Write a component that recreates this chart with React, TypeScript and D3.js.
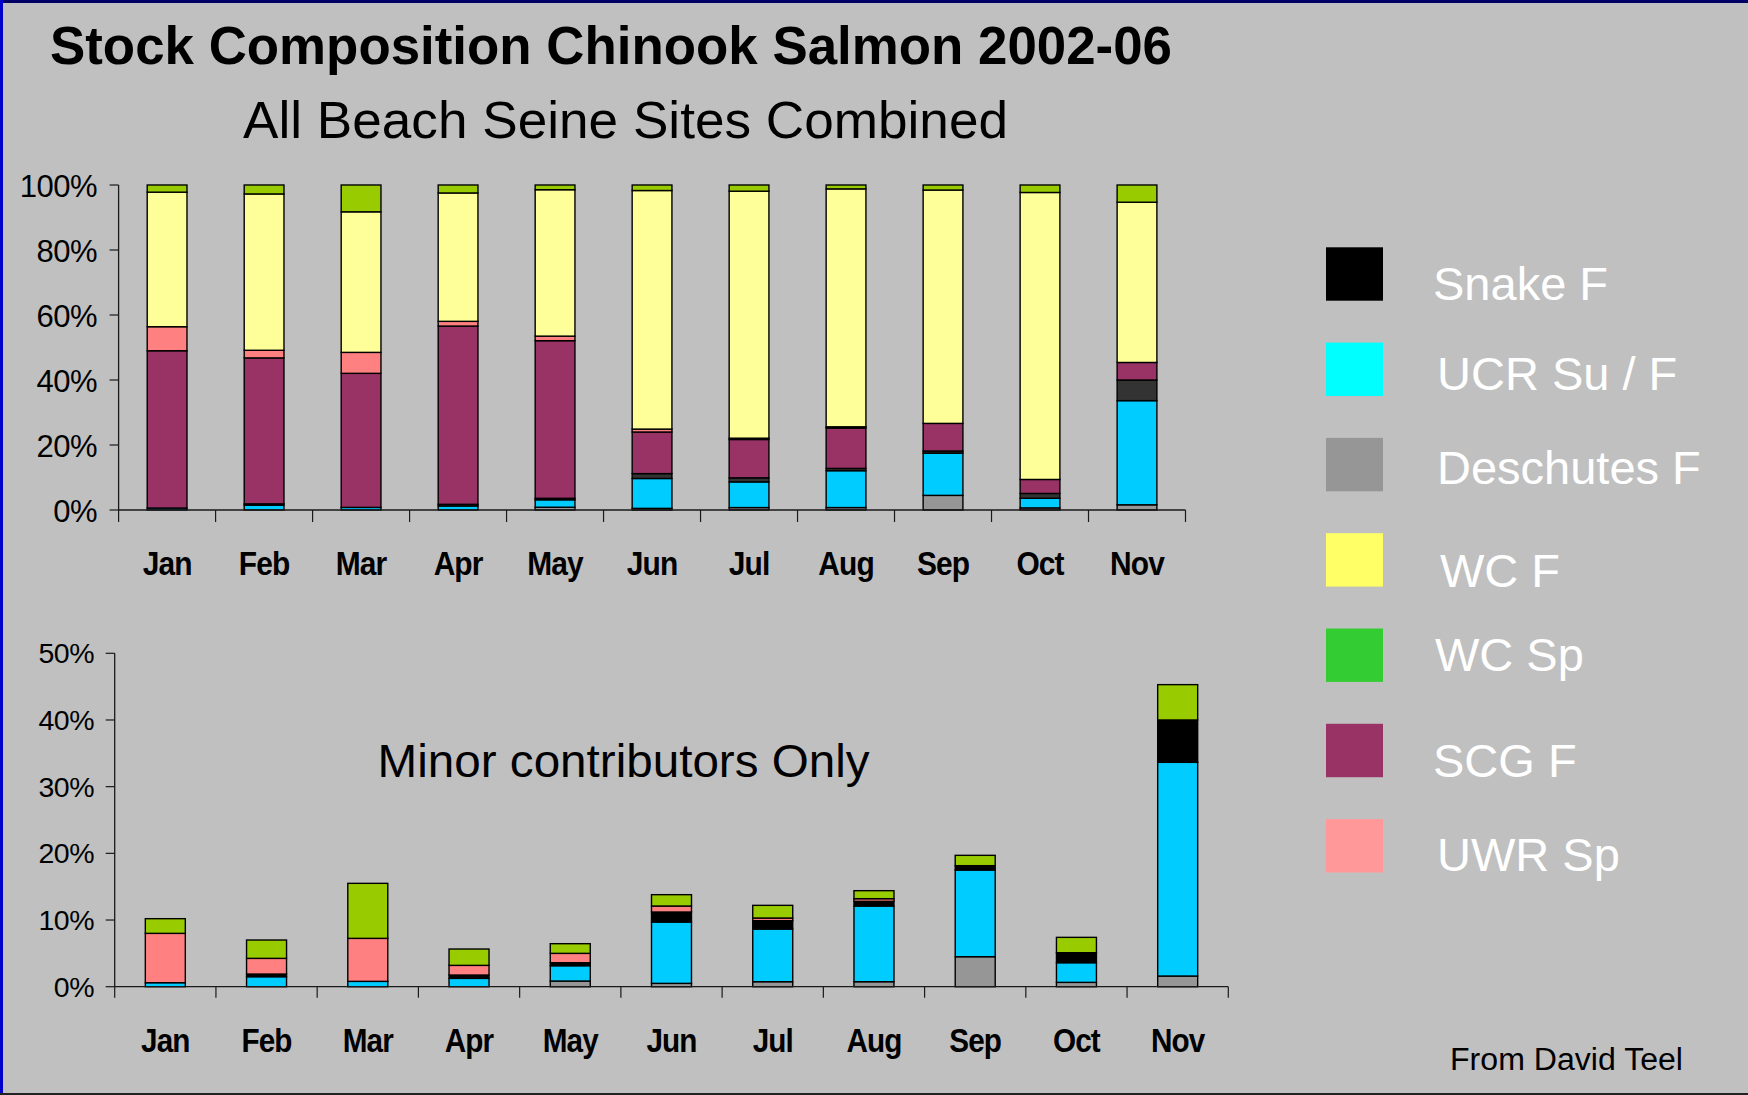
import React from 'react';
import * as d3 from 'd3';

// ---------- data (percent of catch) ----------
const months = ['Jan', 'Feb', 'Mar', 'Apr', 'May', 'Jun', 'Jul', 'Aug', 'Sep', 'Oct', 'Nov'];
const deschutesF = [0, 0, 0, 0, 0.85, 0.5, 0.75, 0.75, 4.5, 0.65, 1.6];
const ucrSuF = [0.6, 1.5, 0.8, 1.25, 2.3, 9.2, 7.9, 11.35, 13.0, 2.95, 32.05];
const snakeF = [0, 0.4, 0, 0.5, 0.45, 1.5, 1.25, 0.7, 0.65, 1.5, 6.35];
const scgF = [48.4, 44.9, 41.25, 54.85, 48.5, 12.8, 11.8, 12.4, 8.5, 4.3, 5.4];
const uwrSp = [7.4, 2.35, 6.45, 1.45, 1.4, 0.9, 0.4, 0.4, 0, 0, 0];
const wcF = [41.4, 48.1, 43.25, 39.5, 45.05, 73.4, 76.0, 73.2, 71.8, 88.3, 49.3];
const wcSp = [2.2, 2.75, 8.25, 2.45, 1.45, 1.7, 1.9, 1.2, 1.55, 2.3, 5.3];

const topTicks = [0, 20, 40, 60, 80, 100];
const bottomTicks = [0, 10, 20, 30, 40, 50];

const legendLabels = ['Snake F', 'UCR Su / F', 'Deschutes F', 'WC F', 'WC Sp', 'SCG F', 'UWR Sp'];

// ---------- styles / layout ----------
const FONT = "Arial, 'Liberation Sans', Helvetica, sans-serif";
const BG = '#C0C0C0';
const topKeys = ['deschutes', 'ucr', 'snake', 'scg', 'uwr', 'wcf', 'wcsp'];
const bottomKeys = ['deschutes', 'ucr', 'snake', 'uwr', 'wcsp'];
const topColors: Record<string, string> = {
  deschutes: '#969696', ucr: '#00CCFF', snake: '#333333', scg: '#993366',
  uwr: '#FF8080', wcf: '#FFFF99', wcsp: '#99CC00',
};
const bottomColors: Record<string, string> = {
  deschutes: '#969696', ucr: '#00CCFF', snake: '#000000', uwr: '#FF8080', wcsp: '#99CC00',
};
const legendColors = ['#000000', '#00FFFF', '#969696', '#FFFF66', '#33CC33', '#993366', '#FF9999'];
// legend text placement quirks of the original slide (offsets from each swatch)
const legendTextDx = [107, 111, 111, 114, 109, 107, 111];
const legendTextDy = [52.7, 47.3, 46.3, 53.7, 42.7, 52.7, 51.4];

export default function App() {
  const rows = months.map((m, i) => ({
    month: m,
    deschutes: deschutesF[i],
    ucr: ucrSuF[i],
    snake: snakeF[i],
    scg: scgF[i],
    uwr: uwrSp[i],
    wcf: wcF[i],
    wcsp: wcSp[i],
  }));

  const topX = d3.scaleBand<string>().domain(months).range([118.6, 1185.5]).paddingInner(0.59).paddingOuter(0.295);
  const topY = d3.scaleLinear().domain([0, 100]).range([510, 185]);
  const botX = d3.scaleBand<string>().domain(months).range([114.7, 1228.3]).paddingInner(0.605).paddingOuter(0.3025);
  const botY = d3.scaleLinear().domain([0, 50]).range([986.7, 653.3]);

  const topStack = d3.stack<any>().keys(topKeys)(rows);
  const botStack = d3.stack<any>().keys(bottomKeys)(rows);

  const boundaries = (x: d3.ScaleBand<string>) => {
    const [r0] = x.range();
    return d3.range(months.length + 1).map((i) => r0 + i * x.step());
  };

  const renderStack = (stack: any[], x: d3.ScaleBand<string>, y: d3.ScaleLinear<number, number>, colors: Record<string, string>) =>
    stack.map((series) => (
      <g key={series.key}>
        {series.map((d: any, i: number) => {
          const h = y(d[0]) - y(d[1]);
          if (h <= 0.01) return null;
          return (
            <rect
              key={i}
              x={x(months[i])}
              y={y(d[1])}
              width={x.bandwidth()}
              height={h}
              fill={colors[series.key]}
              stroke="#000"
              strokeWidth={1.4}
            />
          );
        })}
      </g>
    ));

  const axisColor = '#1a1a1a';

  return (
    <svg
      width={1748}
      height={1095}
      viewBox="0 0 1748 1095"
      style={{ position: 'absolute', left: 0, top: 0, display: 'block' }}
      fontFamily={FONT}
    >
      <rect x={0} y={0} width={1748} height={1095} fill={BG} />
      {/* frame */}
      <rect x={0} y={0} width={1748} height={3} fill="#000066" />
      <rect x={0} y={0} width={3} height={1095} fill="#0000CC" />
      <rect x={0} y={1093} width={1748} height={2} fill="#222" />

      {/* titles */}
      <text x={50} y={64} fontSize={53} fontWeight="bold" fill="#000" textLength={1122} lengthAdjust="spacingAndGlyphs">
        Stock Composition Chinook Salmon 2002-06
      </text>
      <text x={243} y={138} fontSize={52} fill="#000" textLength={765} lengthAdjust="spacingAndGlyphs">
        All Beach Seine Sites Combined
      </text>

      {/* ---------- top chart ---------- */}
      <g>
        {topTicks.map((t) => (
          <g key={t}>
            <line x1={topX.range()[0] - 9} x2={topX.range()[0]} y1={topY(t)} y2={topY(t)} stroke={axisColor} strokeWidth={1.2} />
            <text x={97} y={topY(t) + 11.5} fontSize={31} textAnchor="end" fill="#000" letterSpacing={-0.5}>
              {t}%
            </text>
          </g>
        ))}
        <line x1={topX.range()[0]} x2={topX.range()[0]} y1={topY(100)} y2={topY(0)} stroke={axisColor} strokeWidth={1.3} />
        {renderStack(topStack, topX, topY, topColors)}
        <line x1={topX.range()[0]} x2={topX.range()[1]} y1={topY(0)} y2={topY(0)} stroke={axisColor} strokeWidth={1.3} />
        {boundaries(topX).map((bx, i) => (
          <line key={i} x1={bx} x2={bx} y1={topY(0)} y2={topY(0) + 12} stroke={axisColor} strokeWidth={1.2} />
        ))}
        {months.map((m) => (
          <text
            key={m}
            transform={`translate(${topX(m)! + topX.bandwidth() / 2},575) scale(0.88,1)`}
            fontSize={34}
            fontWeight="bold"
            textAnchor="middle"
            fill="#000"
            letterSpacing={-1}
          >
            {m}
          </text>
        ))}
      </g>

      {/* ---------- bottom chart ---------- */}
      <g>
        {bottomTicks.map((t) => (
          <g key={t}>
            <line x1={botX.range()[0] - 9} x2={botX.range()[0]} y1={botY(t)} y2={botY(t)} stroke={axisColor} strokeWidth={1.2} />
            <text x={94} y={botY(t) + 10} fontSize={28.5} textAnchor="end" fill="#000" letterSpacing={-0.5}>
              {t}%
            </text>
          </g>
        ))}
        <line x1={botX.range()[0]} x2={botX.range()[0]} y1={botY(50)} y2={botY(0)} stroke={axisColor} strokeWidth={1.3} />
        {renderStack(botStack, botX, botY, bottomColors)}
        <line x1={botX.range()[0]} x2={botX.range()[1]} y1={botY(0)} y2={botY(0)} stroke={axisColor} strokeWidth={1.3} />
        {boundaries(botX).map((bx, i) => (
          <line key={i} x1={bx} x2={bx} y1={botY(0)} y2={botY(0) + 11} stroke={axisColor} strokeWidth={1.2} />
        ))}
        {months.map((m) => (
          <text
            key={m}
            transform={`translate(${botX(m)! + botX.bandwidth() / 2},1051.5) scale(0.9,1)`}
            fontSize={33}
            fontWeight="bold"
            textAnchor="middle"
            fill="#000"
            letterSpacing={-1}
          >
            {m}
          </text>
        ))}
        <text x={377.6} y={777} fontSize={47} fill="#000" textLength={492} lengthAdjust="spacingAndGlyphs">
          Minor contributors Only
        </text>
      </g>

      {/* ---------- legend ---------- */}
      <g>
        {legendLabels.map((lab, i) => {
          const top = 247.3 + i * 95.3;
          return (
            <g key={lab}>
              <rect x={1326} y={top} width={57} height={53.4} fill={legendColors[i]} />
              <text x={1326 + legendTextDx[i]} y={top + legendTextDy[i]} fontSize={47} fill="#FFFFFF">
                {lab}
              </text>
            </g>
          );
        })}
      </g>

      <text x={1450} y={1070} fontSize={31} fill="#000" textLength={233} lengthAdjust="spacingAndGlyphs">
        From David Teel
      </text>
    </svg>
  );
}
